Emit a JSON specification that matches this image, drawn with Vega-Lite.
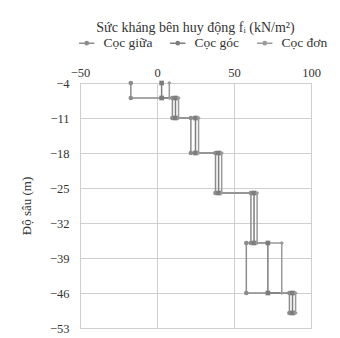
{
  "$schema": "https://vega.github.io/schema/vega-lite/v6.json",
  "width": 231,
  "height": 245,
  "autosize": "none",
  "padding": {"left": 80, "top": 83, "right": 29, "bottom": 10},
  "background": "white",
  "config": {
    "font": "Times New Roman",
    "view": {"stroke": "#bdbdbd", "strokeWidth": 1},
    "axis": {"labelFont": "Times New Roman", "titleFont": "Times New Roman", "labelFontSize": 12.5, "labelColor": "#333", "titleColor": "#333", "gridColor": "#cfcfcf", "domain": false, "ticks": false},
    "legend": {"labelFont": "Times New Roman", "labelFontSize": 13.5, "labelColor": "#333"},
    "title": {"font": "Times New Roman", "fontSize": 14, "fontWeight": "normal", "color": "#333"}
  },
  "title": {"text": "Sức kháng bên huy động fᵢ (kN/m²)", "anchor": "middle", "offset": 1, "font": "Times New Roman"},
  "data": {"values": [
    {"s":"Cọc giữa","o":1,"x":-17,"d":-4},{"s":"Cọc giữa","o":2,"x":-17,"d":-7},
    {"s":"Cọc giữa","o":3,"x":10,"d":-7},{"s":"Cọc giữa","o":4,"x":10,"d":-11},
    {"s":"Cọc giữa","o":5,"x":22,"d":-11},{"s":"Cọc giữa","o":6,"x":22,"d":-18},
    {"s":"Cọc giữa","o":7,"x":38,"d":-18},{"s":"Cọc giữa","o":8,"x":38,"d":-26},
    {"s":"Cọc giữa","o":9,"x":61,"d":-26},{"s":"Cọc giữa","o":10,"x":61,"d":-36},
    {"s":"Cọc giữa","o":11,"x":58,"d":-36},{"s":"Cọc giữa","o":12,"x":58,"d":-46},
    {"s":"Cọc giữa","o":13,"x":86,"d":-46},{"s":"Cọc giữa","o":14,"x":86,"d":-50},
    {"s":"Cọc góc","o":1,"x":3,"d":-4},{"s":"Cọc góc","o":2,"x":3,"d":-7},
    {"s":"Cọc góc","o":3,"x":12,"d":-7},{"s":"Cọc góc","o":4,"x":12,"d":-11},
    {"s":"Cọc góc","o":5,"x":25,"d":-11},{"s":"Cọc góc","o":6,"x":25,"d":-18},
    {"s":"Cọc góc","o":7,"x":40,"d":-18},{"s":"Cọc góc","o":8,"x":40,"d":-26},
    {"s":"Cọc góc","o":9,"x":63,"d":-26},{"s":"Cọc góc","o":10,"x":63,"d":-36},
    {"s":"Cọc góc","o":11,"x":72,"d":-36},{"s":"Cọc góc","o":12,"x":72,"d":-46},
    {"s":"Cọc góc","o":13,"x":88,"d":-46},{"s":"Cọc góc","o":14,"x":88,"d":-50},
    {"s":"Cọc đơn","o":1,"x":8,"d":-4},{"s":"Cọc đơn","o":2,"x":8,"d":-7},
    {"s":"Cọc đơn","o":3,"x":14,"d":-7},{"s":"Cọc đơn","o":4,"x":14,"d":-11},
    {"s":"Cọc đơn","o":5,"x":27,"d":-11},{"s":"Cọc đơn","o":6,"x":27,"d":-18},
    {"s":"Cọc đơn","o":7,"x":42,"d":-18},{"s":"Cọc đơn","o":8,"x":42,"d":-26},
    {"s":"Cọc đơn","o":9,"x":65,"d":-26},{"s":"Cọc đơn","o":10,"x":65,"d":-36},
    {"s":"Cọc đơn","o":11,"x":81,"d":-36},{"s":"Cọc đơn","o":12,"x":81,"d":-46},
    {"s":"Cọc đơn","o":13,"x":90,"d":-46},{"s":"Cọc đơn","o":14,"x":90,"d":-50}
  ]},
  "encoding": {
    "x": {"field": "x", "type": "quantitative", "scale": {"domain": [-50, 100], "nice": false, "zero": false},
          "axis": {"orient": "top", "values": [-50, 0, 50, 100], "title": null, "labelPadding": 4, "labelFlush": false, "labelFont": "Times New Roman", "labelFontSize": 12.5}},
    "y": {"field": "d", "type": "quantitative", "scale": {"domain": [-53, -4], "nice": false, "zero": false},
          "axis": {"values": [-4, -11, -18, -25, -32, -39, -46, -53], "title": "Độ sâu (m)", "titleFont": "Times New Roman", "labelFont": "Times New Roman", "labelFontSize": 12.5, "titleFontSize": 13, "titleFontWeight": "normal", "labelPadding": 11, "titlePadding": 16}}
  },
  "layer": [
    {
      "mark": {"type": "line", "strokeWidth": 1.5},
      "encoding": {
        "order": {"field": "o", "type": "quantitative"},
        "color": {"field": "s", "type": "nominal", "sort": ["Cọc giữa", "Cọc góc", "Cọc đơn"],
                  "scale": {"domain": ["Cọc giữa", "Cọc góc", "Cọc đơn"], "range": ["#8c8c8c", "#7d7d7d", "#9a9a9a"]},
                  "legend": {"orient": "top", "direction": "horizontal", "title": null, "offset": 16, "labelFont": "Times New Roman", "labelFontSize": 13.5, "symbolType": "M-1.4,0H1.4M-0.3,0a0.3,0.3 0 1,0 0.6,0a0.3,0.3 0 1,0 -0.6,0", "symbolSize": 120, "symbolStrokeWidth": 1.5, "symbolFillColor": "#8c8c8c", "columnPadding": 14, "labelOffset": 10}}
      }
    },
    {
      "transform": [{"filter": "datum.s === 'Cọc giữa'"}],
      "mark": {"type": "point", "filled": true, "size": 22, "opacity": 1, "shape": "circle", "color": "#8c8c8c"}
    },
    {
      "transform": [{"filter": "datum.s === 'Cọc góc'"}],
      "mark": {"type": "point", "filled": true, "size": 22, "opacity": 1, "shape": "square", "color": "#7d7d7d"}
    },
    {
      "transform": [{"filter": "datum.s === 'Cọc đơn'"}],
      "mark": {"type": "point", "filled": true, "size": 18, "opacity": 1, "shape": "diamond", "color": "#9a9a9a"}
    }
  ]
}
